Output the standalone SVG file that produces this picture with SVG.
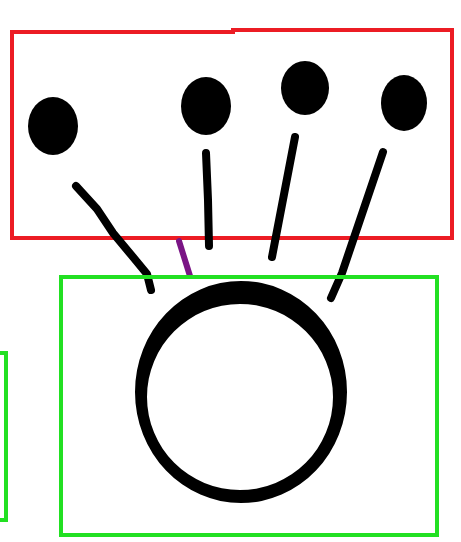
<svg xmlns="http://www.w3.org/2000/svg" width="461" height="542" viewBox="0 0 461 542">
<style>
.red{fill:none;stroke:#ec1c24;stroke-width:4}
.green{fill:none;stroke:#22e022;stroke-width:4}
.stem{fill:none;stroke:#000;stroke-width:8;stroke-linecap:round;stroke-linejoin:round}
.dot{fill:#000}
</style>
<rect width="461" height="542" fill="#fff"/>
<g id="red-box">
<path class="red" d="M12,32 L233,32 L233,30 L452,30 L452,238 L12,238 Z"/>
</g>
<g id="dots">
<ellipse class="dot" cx="53" cy="126" rx="25" ry="29"/>
<ellipse class="dot" cx="206" cy="106" rx="25" ry="29"/>
<ellipse class="dot" cx="305" cy="88" rx="24" ry="27"/>
<ellipse class="dot" cx="404" cy="103" rx="23" ry="28"/>
</g>
<g id="stems">
<path class="stem" d="M76,186 L97,209 L113,233 L133,257 L147,274 L151,290"/>
<path class="stem" d="M206,153 L208,200 L209,246"/>
<path class="stem" d="M295,137 L272,257"/>
<path class="stem" d="M383,152 L342,273 L331,298"/>
<path d="M179,241 L190,276" fill="none" stroke="#7a1585" stroke-width="6" stroke-linecap="round"/>
</g>
<g id="ring">
<path fill="#000" fill-rule="evenodd" d="M135,392 A106,111 0 1 0 347,392 A106,111 0 1 0 135,392 Z M147,397 A93,93 0 1 0 333,397 A93,93 0 1 0 147,397 Z"/>
</g>
<g id="green-box">
<rect class="green" x="61" y="277" width="376" height="258"/>
<path class="green" d="M0,353 L6,353 L6,520 L0,520"/>
</g>
</svg>
